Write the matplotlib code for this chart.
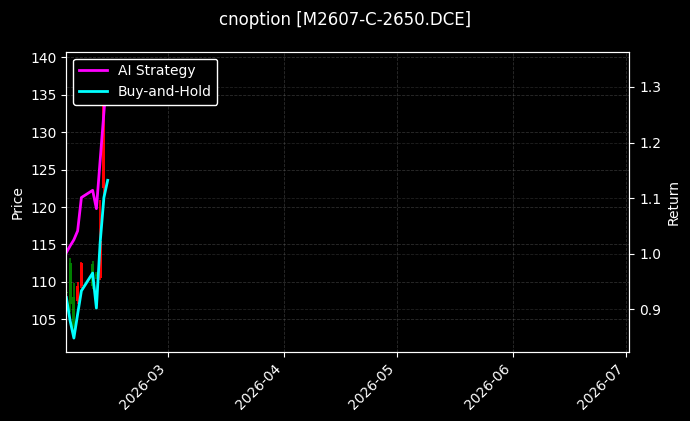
import matplotlib
matplotlib.use("Agg")
import matplotlib.pyplot as plt
import matplotlib.dates as mdates
import pandas as pd

# ---------------------------------------------------------------------------
# Data
# ---------------------------------------------------------------------------

DATES = pd.to_datetime([
    "2026-02-02", "2026-02-03", "2026-02-04", "2026-02-05", "2026-02-06",
    "2026-02-09", "2026-02-10", "2026-02-11", "2026-02-12", "2026-02-13",
])

# candles (Feb 2 sits on the left edge, nearly hidden)
OPEN  = [108.5, 107.0, 104.0, 109.5, 112.5, 109.4, 110.8, 115.5, 134.5, 134.6]
HIGH  = [109.0, 113.2, 109.8, 110.0, 112.7, 112.8, 111.3, 121.0, 138.9, 135.3]
LOW   = [107.8, 106.0, 102.5, 107.0, 109.2, 109.1, 110.4, 110.2, 121.5, 133.8]
CLOSE = [108.7, 112.5, 108.0, 107.5, 109.5, 112.4, 111.0, 110.5, 122.5, 134.0]

AI_RETURN = [1.002, 1.014, 1.025, 1.041, 1.101, 1.114, 1.081, 1.168, 1.254, 1.339]
BH_RETURN = [0.921, 0.879, 0.848, 0.891, 0.933, 0.965, 0.902, 1.020, 1.101, 1.132]

TITLE = "cnoption [M2607-C-2650.DCE]"
X_START, X_END = "2026-02-02", "2026-07-02"

# ---------------------------------------------------------------------------
# Plot
# ---------------------------------------------------------------------------

plt.style.use("dark_background")
fig = plt.figure(figsize=(6.9, 4.21), dpi=100)
fig.patch.set_facecolor("black")
ax = fig.add_axes([0.0962, 0.1646, 0.8158, 0.7126])
ax.set_facecolor("black")

body_w = pd.Timedelta(hours=18)
for d, o, h, l, c in zip(DATES, OPEN, HIGH, LOW, CLOSE):
    col = "green" if c >= o else "red"
    ax.vlines(d, l, h, color=col, linewidth=1.2)
    ax.bar(d, abs(c - o), bottom=min(o, c), width=body_w, color=col, linewidth=0)

ax.set_ylim(100.67, 140.75)
ax.set_ylabel("Price", color="white")
ax.grid(True, linestyle="--", linewidth=0.6, color="gray", alpha=0.35)

ax2 = ax.twinx()
ax2.plot(DATES, AI_RETURN, color="magenta", linewidth=2, label="AI Strategy")
ax2.plot(DATES, BH_RETURN, color="cyan", linewidth=2, label="Buy-and-Hold")
ax2.set_ylabel("Return", color="white")
ax2.grid(True, linestyle="--", linewidth=0.6, color="gray", alpha=0.25)
leg = ax2.legend(loc="upper left", facecolor="black", edgecolor="white", framealpha=1)

ax.set_xlim(pd.Timestamp(X_START), pd.Timestamp(X_END))
ax.xaxis.set_major_locator(mdates.MonthLocator())
ax.xaxis.set_major_formatter(mdates.DateFormatter("%Y-%m"))
plt.setp(ax.get_xticklabels(), rotation=45, ha="right")

for a in (ax, ax2):
    for s in a.spines.values():
        s.set_color("white")

fig.suptitle(TITLE, fontsize=12, color="white", y=0.975)
fig.savefig("out.png", dpi=100, facecolor="black")
